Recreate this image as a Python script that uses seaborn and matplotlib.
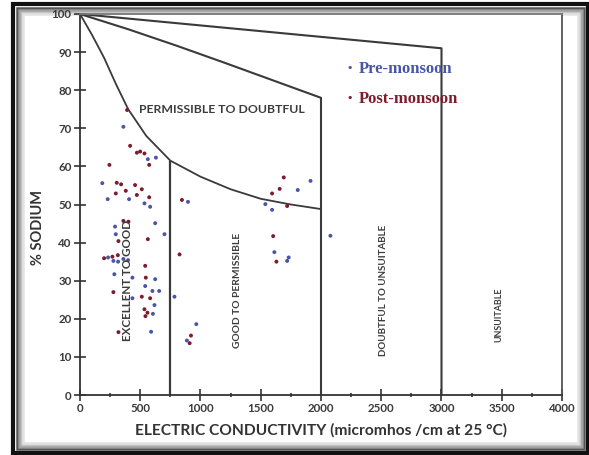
import matplotlib
matplotlib.use("Agg")
import matplotlib.pyplot as plt
from matplotlib.patches import Rectangle
from matplotlib.ticker import MultipleLocator
import seaborn as sns
import pandas as pd

# ---- data ----
pre_ec = [360, 563, 630, 185, 230, 407, 535, 582, 896, 291, 624, 701, 297, 233, 277,
          316, 360, 399, 285, 624, 435, 541, 601, 657, 435, 618, 605, 590, 784, 965,
          887, 1538, 1594, 1807, 1913, 1613, 1732, 1719, 2078]
pre_na = [70.4, 61.9, 62.3, 55.6, 51.4, 51.4, 50.3, 49.4, 50.7, 44.2, 45.1, 42.2, 42.2,
          36.1, 35.2, 35.0, 35.7, 35.4, 31.7, 30.4, 30.8, 28.6, 27.3, 27.3, 25.4, 23.6,
          21.3, 16.6, 25.8, 18.6, 14.3, 50.1, 48.6, 53.8, 56.2, 37.5, 36.1, 35.2, 41.8]
post_ec = [391, 416, 472, 499, 535, 574, 244, 305, 341, 457, 513, 380, 297, 472, 574,
           846, 360, 402, 563, 319, 200, 269, 314, 541, 826, 546, 277, 513, 582, 535,
           560, 543, 319, 921, 910, 1691, 1657, 1594, 1719, 1603, 1630]
post_na = [74.8, 65.4, 63.6, 63.9, 63.4, 60.4, 60.4, 55.7, 55.3, 55.1, 54.0, 53.6, 52.9,
           52.5, 51.9, 51.2, 45.7, 45.5, 40.9, 40.4, 35.9, 36.3, 36.7, 33.9, 36.9, 30.8,
           27.0, 25.8, 25.4, 22.5, 21.6, 20.7, 16.5, 15.6, 13.6, 57.1, 54.1, 52.9, 49.6,
           41.7, 35.0]
seasons = ["Pre-monsoon", "Post-monsoon"]

# Wilcox diagram boundaries
outer_ec = [0, 3000, 3000]
outer_na = [100, 91, 0]
mid_ec = [0, 400, 800, 1200, 1600, 2000, 2000]
mid_na = [100, 96.0, 91.7, 87.2, 82.6, 78, 0]
low_ec = [0, 100, 200, 300, 400, 550, 750, 1000, 1250, 1500, 1750, 2000]
low_na = [100, 94.5, 88.5, 81.5, 75, 68, 61.5, 57.3, 54.0, 51.5, 50.0, 48.8]
v750_ec = [750, 750]
v750_na = [61.5, 0]

region_labels = ["PERMISSIBLE TO DOUBTFUL", "EXCELLENT TO GOOD", "GOOD TO PERMISSIBLE",
                 "DOUBTFUL TO UNSUITABLE", "UNSUITABLE"]
region_ec = [1180, 391, 1306, 2520, 3476]
region_na = [75, 30.2, 27.5, 27.5, 21]
region_size = [8.8, 8.4, 7.4, 7.0, 6.4]
region_rot = [0, 90, 90, 90, 90]

df = pd.DataFrame({
    "ec": pre_ec + post_ec,
    "na": pre_na + post_na,
    "season": [seasons[0]] * len(pre_ec) + [seasons[1]] * len(post_ec),
})

blue = "#4a55a8"
red = "#7d1c2c"
grey = "#3a3a3a"

sns.set_style("ticks")
plt.rcParams["font.family"] = ["Lato", "DejaVu Sans"]

fig = plt.figure(figsize=(5.89, 4.55), dpi=100)
ax = fig.add_axes([80 / 589, 60 / 455, 482 / 589, 381 / 455])

# frame around the picture (behind everything)
fig.add_artist(Rectangle((13 / 589, 2 / 455), 575 / 589, 449 / 455, transform=fig.transFigure,
                         fill=False, ec="#111111", lw=3.0, zorder=-2))
for i, g in enumerate(["#555555", "#888888", "#aaaaaa", "#c8c8c8", "#e2e2e2"]):
    off = 2 + i * 1.6
    fig.add_artist(Rectangle(((15 + off) / 589, (4 + off) / 455), (571 - 2 * off) / 589,
                             (445 - 2 * off) / 455, transform=fig.transFigure,
                             fill=False, ec=g, lw=1.8, zorder=-2))

ax.plot(outer_ec, outer_na, color=grey, lw=1.5, zorder=2)
ax.plot(mid_ec, mid_na, color=grey, lw=1.5, zorder=2)
ax.plot(low_ec, low_na, color=grey, lw=1.3, zorder=2)
ax.plot(v750_ec, v750_na, color=grey, lw=1.6, zorder=2)

sns.scatterplot(data=df, x="ec", y="na", hue="season", palette={seasons[0]: blue, seasons[1]: red},
                s=8, edgecolor="none", ax=ax, zorder=3, legend=False)

for lab, xx, yy, fs, rot in zip(region_labels, region_ec, region_na, region_size, region_rot):
    ax.text(xx, yy, lab, rotation=rot, ha="center", va="center", fontsize=fs,
            fontweight="bold", color="#3c3c3c", zorder=4)

# legend (text as in the original)
for lab, col, yy in zip(seasons, [blue, red], [85.6, 77.6]):
    ax.text(2220, yy, "•", color=col, fontsize=9, va="center", ha="left",
            family=["Liberation Serif"], fontweight="bold", zorder=5)
    ax.text(2310, yy, lab, color=col, fontsize=12, va="center", ha="left",
            family=["Liberation Serif"], fontweight="bold", zorder=5)

ax.set_xlim(0, 4000)
ax.set_ylim(0, 100)
ax.xaxis.set_major_locator(MultipleLocator(500))
ax.xaxis.set_minor_locator(MultipleLocator(250))
ax.yaxis.set_major_locator(MultipleLocator(10))
ax.tick_params(axis="both", which="major", direction="inout", length=8, width=1.2,
               color="#333333", labelsize=8.3, labelcolor="#3a3a3a", pad=2)
ax.tick_params(axis="x", which="minor", direction="inout", length=3, width=1.2, color="#333333")
for lbl in ax.get_xticklabels() + ax.get_yticklabels():
    lbl.set_fontweight("bold")
for sp in ax.spines.values():
    sp.set_color("#333333")
    sp.set_linewidth(1.3)
ax.spines["top"].set_color("#777777")
ax.spines["right"].set_color("#555555")

ax.set_xlabel("ELECTRIC CONDUCTIVITY (micromhos /cm at 25 °C)", fontsize=11.2, fontweight="bold",
              color="#333333", labelpad=6)
ax.set_ylabel("% SODIUM", fontsize=10.5, fontweight="bold", color="#333333")
ax.yaxis.set_label_coords(-0.072, 0.44)

fig.savefig("out.png", dpi=100)
